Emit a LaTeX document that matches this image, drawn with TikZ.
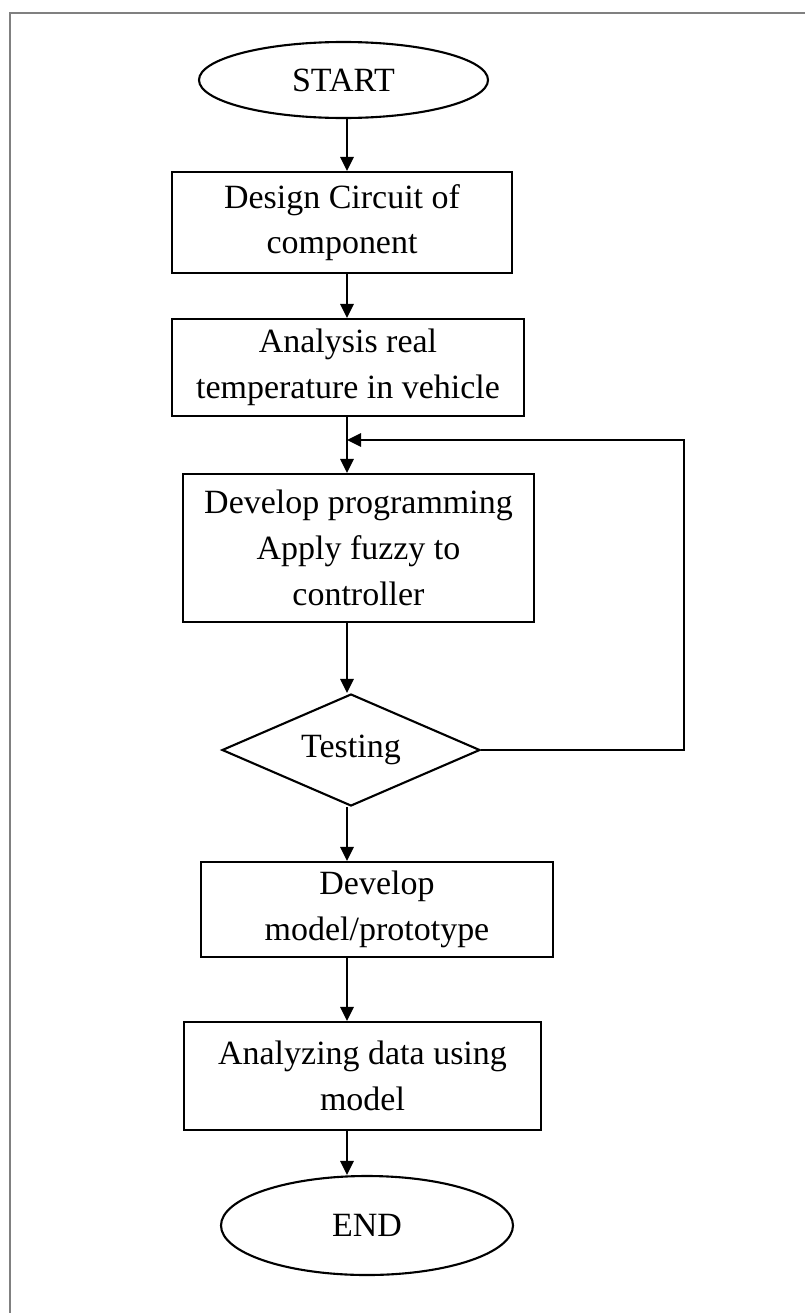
\documentclass[tikz,border=0pt]{standalone}
\usepackage{fontspec}
\setmainfont{Liberation Serif}
\usetikzlibrary{shapes.geometric,arrows.meta}

\begin{document}
\begin{tikzpicture}[x=0.3mm, y=-0.3mm,
    every node/.style={font=\fontsize{29}{39}\selectfont, align=center},
    stepbox/.style={draw, line width=1.8pt, inner sep=0pt},
    termnode/.style={draw, ellipse, line width=1.8pt, inner sep=0pt},
    testnode/.style={draw, diamond, aspect=2.3, line width=1.8pt, inner sep=0pt},
    flow/.style={-{Triangle[length=4.2mm,width=4mm]}, line width=1.8pt}]
    \useasboundingbox (0,0) rectangle (805,1313);
    \draw[gray, line width=1.8pt] (10,1313) -- (10,13) -- (805,13);

    \coordinate (axis) at (347,0);
    \coordinate (loop) at (684,440);

    \node[termnode, minimum width=86.7mm, minimum height=22.8mm] (start) at (343.5,80) {START};
    \node[stepbox, minimum width=102mm, minimum height=30.3mm] (design) at (342,222.5) {Design Circuit of\\component};
    \node[stepbox, minimum width=105.6mm, minimum height=29.1mm] (analysis) at (348,367.5) {Analysis real\\temperature in vehicle};
    \node[stepbox, minimum width=105.3mm, minimum height=44.4mm] (develop) at (358.5,548) {Develop programming\\Apply fuzzy to\\controller};
    \node[testnode, minimum width=77.4mm, minimum height=33.6mm] (testing) at (351,750) {Testing};
    \node[stepbox, minimum width=105.6mm, minimum height=28.5mm] (model) at (377,909.5) {Develop\\model/prototype};
    \node[stepbox, minimum width=107.1mm, minimum height=32.4mm] (data) at (362.5,1076) {Analyzing data using\\model};
    \node[termnode, minimum width=87.6mm, minimum height=29.7mm] (finish) at (367,1225.5) {END};

    \draw[flow] (start.south -| axis) -- (design.north -| axis);
    \draw[flow] (design.south -| axis) -- (analysis.north -| axis);
    \draw[flow] (analysis.south -| axis) -- (develop.north -| axis);
    \draw[flow] (develop.south -| axis) -- (testing.north -| axis);
    \draw[flow] (testing.south -| axis) -- (model.north -| axis);
    \draw[flow] (model.south -| axis) -- (data.north -| axis);
    \draw[flow] (data.south -| axis) -- (finish.north -| axis);
    \draw[flow] (testing.east) -| (loop) -- (loop -| axis);
\end{tikzpicture}
\end{document}
